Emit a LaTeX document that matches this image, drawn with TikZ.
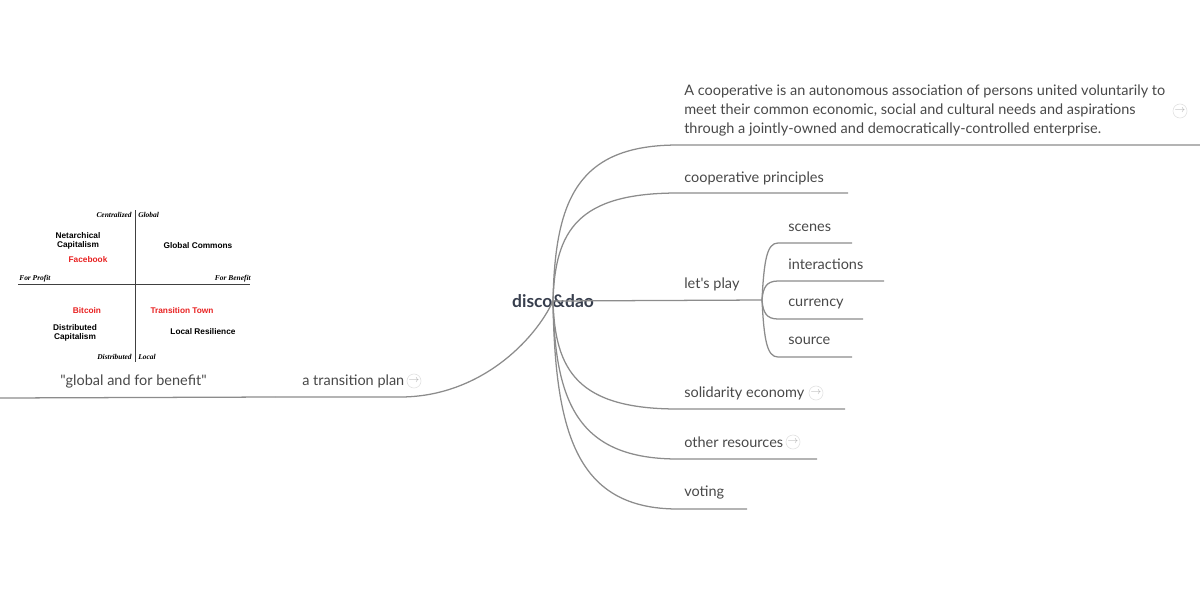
\documentclass[tikz,border=0pt]{standalone}
\usepackage{fontspec}
\setmainfont{Lato}
\newfontfamily\quadsans{Liberation Sans}
\newfontfamily\quadserif{Liberation Serif}
\usetikzlibrary{positioning}
\definecolor{branch}{RGB}{140,140,140}
\definecolor{topictext}{RGB}{72,72,72}
\definecolor{roottext}{RGB}{55,62,77}
\definecolor{quadred}{RGB}{232,32,32}

\begin{document}
\begin{tikzpicture}[x=0.025cm, y=-0.025cm,
        topic/.style={anchor=base west, inner sep=0pt, font=\fontsize{10.3}{13.2}\selectfont, text=topictext},
        root/.style={inner sep=1pt, font=\fontsize{12.4}{14}\selectfont\bfseries, text=roottext},
        link/.style={draw=branch, line width=0.9pt},
        jump/.style={circle, draw=gray!25, line width=0.4pt, inner sep=0pt, minimum size=10pt,
                     text=gray!60, font=\fontsize{7}{7}\selectfont},
        qbold/.style={font=\quadsans\fontsize{5.9}{6.6}\selectfont\bfseries, align=center, inner sep=0pt},
        qaxis/.style={font=\quadserif\fontsize{5.3}{6}\selectfont\bfseries\itshape, inner sep=0pt},
    ]
        \useasboundingbox (0,0) rectangle (1200,600);

        % Central topic
        \node[root] (root) at (553,301) {disco\&dao};

        % Right side: definition
        \node[topic, anchor=north west, align=left] (def) at (684,85)
            {A cooperative is an autonomous association of persons united voluntarily to\\
             meet their common economic, social and cultural needs and aspirations\\
             through a jointly-owned and democratically-controlled enterprise.};
        \node[jump] (defjump) at (1180,111) {$\to$};
        \coordinate (defa) at (678,145);
        \coordinate (defb) at (1200,145);
        \draw[link] (root.center) .. controls (555,199) and (578,145) .. (defa) -- (defb);

        % Right side: principles
        \node[topic] (princ) at (684,182) {cooperative principles};
        \coordinate (princa) at (678,193);
        \coordinate (princb) at (848,193);
        \draw[link] (root.center) .. controls (555,230) and (578,193) .. (princa) -- (princb);

        % Right side: let's play and its children
        \node[topic] (play) at (684,288) {let\textquotesingle s play};
        \coordinate (playb) at (762,300);
        \draw[link] (root.center) -- (playb);

        \node[topic] (scenes) at (788,231) {scenes};
        \node[topic] (inter) at (788,269) {interactions};
        \node[topic] (curr) at (788,306) {currency};
        \node[topic] (src) at (788,344) {source};
        \coordinate (scenesa) at (778,243); \coordinate (scenesb) at (852,243);
        \coordinate (intera) at (778,281);  \coordinate (interb) at (884,281);
        \coordinate (curra) at (778,319);   \coordinate (currb) at (863,319);
        \coordinate (srca) at (778,357);    \coordinate (srcb) at (852,357);
        \draw[link] (playb) .. controls (764,260) and (767,243) .. (scenesa) -- (scenesb);
        \draw[link] (playb) .. controls (763,288) and (766,281) .. (intera) -- (interb);
        \draw[link] (playb) .. controls (763,312) and (766,319) .. (curra) -- (currb);
        \draw[link] (playb) .. controls (764,340) and (767,357) .. (srca) -- (srcb);

        % Right side: lower topics
        \node[topic] (solid) at (684,397) {solidarity economy};
        \node[jump] (solidjump) at (816,393) {$\to$};
        \coordinate (solida) at (678,409);
        \coordinate (solidb) at (845,409);
        \draw[link] (root.center) .. controls (555,371) and (578,409) .. (solida) -- (solidb);

        \node[topic] (other) at (684,447) {other resources};
        \node[jump] (otherjump) at (793,442) {$\to$};
        \coordinate (othera) at (678,459);
        \coordinate (otherb) at (817,459);
        \draw[link] (root.center) .. controls (555,403) and (578,459) .. (othera) -- (otherb);

        \node[topic] (vote) at (684,496) {voting};
        \coordinate (votea) at (678,509);
        \coordinate (voteb) at (747,509);
        \draw[link] (root.center) .. controls (555,436) and (578,509) .. (votea) -- (voteb);

        % Left side: transition plan
        \node[topic] (plan) at (302,385) {a transition plan};
        \node[jump] (planjump) at (414,381) {$\to$};
        \coordinate (plana) at (400,397);
        \coordinate (planb) at (275,397);
        \draw[link] (root.center) .. controls (535,340) and (480,397) .. (plana) -- (planb);

        \node[topic] (glob) at (60,385) {\textquotedbl global and for benefit\textquotedbl};
        \coordinate (globb) at (0,398);
        \draw[link] (planb) -- (globb);

        % Quadrant picture
        \draw[black!75, line width=0.5pt] (135,210) -- (135,362);
        \draw[black!75, line width=0.5pt] (18,284) -- (250,284);
        \node[qaxis, anchor=east] (qcen) at (132,215) {Centralized};
        \node[qaxis, anchor=west] (qglo) at (138,215) {Global};
        \node[qaxis, anchor=west] (qpro) at (19,279) {For Profit};
        \node[qaxis, anchor=east] (qben) at (251,279) {For Benefit};
        \node[qaxis, anchor=east] (qdis) at (132,357) {Distributed};
        \node[qaxis, anchor=west] (qloc) at (138,357) {Local};
        \node[qbold] (qnet) at (78,241) {Netarchical\\Capitalism};
        \node[qbold] (qcom) at (198,246) {Global Commons};
        \node[qbold, text=quadred] (qfb) at (88,260) {Facebook};
        \node[qbold, text=quadred] (qbtc) at (87,311) {Bitcoin};
        \node[qbold, text=quadred] (qtt) at (182,311) {Transition Town};
        \node[qbold] (qdcap) at (75,333) {Distributed\\Capitalism};
        \node[qbold] (qres) at (203,332) {Local Resilience};
    \end{tikzpicture}
\end{document}
